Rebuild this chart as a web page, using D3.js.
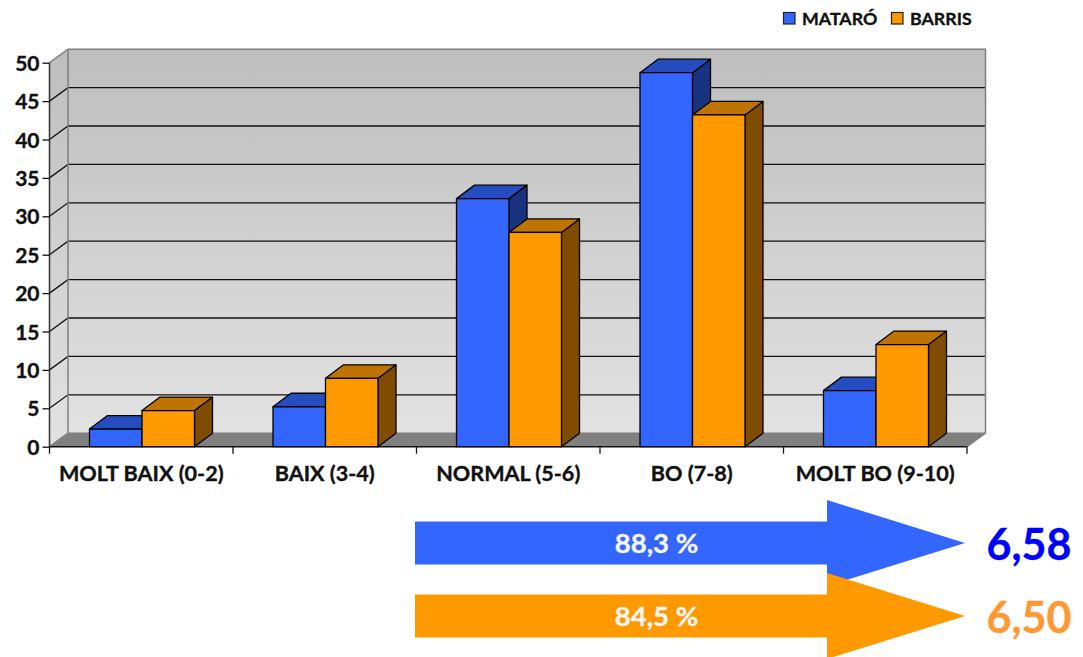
<!DOCTYPE html>
<html><head><meta charset="utf-8">
<script src="https://cdn.jsdelivr.net/npm/d3@7"></script>
<style>html,body{margin:0;padding:0;background:#fff}svg{display:block}text{font-family:Lato,"Open Sans",sans-serif;font-weight:700;stroke:currentColor;stroke-width:.35px}</style>
</head><body><svg id="c" width="1083" height="657"></svg>
<script>
const categories=["MOLT BAIX (0-2)","BAIX (3-4)","NORMAL (5-6)","BO (7-8)","MOLT BO (9-10)"];
const mataro=[2.3,5.2,32.3,48.7,7.3];
const barris=[4.7,8.9,27.9,43.2,13.3];
const seriesNames=["MATARÓ","BARRIS"];
const yTicks=[0,5,10,15,20,25,30,35,40,45,50];
const summaryPct=["88,3 %","84,5 %"];
const summaryMean=["6,58","6,50"];

const svg=d3.select("#c");
const dx=18.5,dy=-13.5,bdx=18,bdy=-13.5;
const x=d3.scaleBand().domain(categories).range([49.5,967]);
const y=d3.scaleLinear().domain([0,50]).range([446.7,62.7]);
const inner=d3.scaleBand().domain([0,1]).range([40,145]);
const defs=svg.append("defs");
const g=defs.append("linearGradient").attr("id","wall").attr("x1",0).attr("x2",0).attr("y1",0).attr("y2",1);
g.append("stop").attr("offset",0).attr("stop-color","#bebebe");
g.append("stop").attr("offset",1).attr("stop-color","#e2e2e2");
const poly=(pts,fill,stroke,sw)=>svg.append("polygon").attr("points",pts.map(p=>p.join(",")).join(" ")).attr("fill",fill).attr("stroke",stroke||"none").attr("stroke-width",sw||0).attr("stroke-linejoin","round");
const x0=x.range()[0],x1=x.range()[1],y0=y(0),yT=y(50);
poly([[x0,y0],[x0+dx,y0+dy],[x0+dx,yT+dy],[x0,yT]],"url(#wall)");
poly([[x0+dx,y0+dy],[x1+dx,y0+dy],[x1+dx,yT+dy],[x0+dx,yT+dy]],"url(#wall)");
poly([[x0,y0],[x1,y0],[x1+dx,y0+dy],[x0+dx,y0+dy]],"#808080");
yTicks.filter(t=>t>0&&t<50).forEach(t=>{
  svg.append("path").attr("fill","none").attr("stroke","#111").attr("stroke-width",1.3)
    .attr("d",`M${x0},${y(t)}L${x0+dx},${y(t)+dy}L${x1+dx},${y(t)+dy}`);
});
svg.append("path").attr("fill","none").attr("stroke","#808080").attr("stroke-width",1.5)
  .attr("d",`M${x0},${yT}L${x0+dx},${yT+dy}L${x1+dx},${yT+dy}L${x1+dx},${y0+dy}L${x1},${y0}M${x0+dx},${yT+dy}L${x0+dx},${y0+dy}L${x0},${y0}M${x0+dx},${y0+dy}L${x1+dx},${y0+dy}`);
const colors=[{f:"#3366ff",t:"#264dbf",s:"#1a3380"},{f:"#ff9900",t:"#bf7300",s:"#804d00"}];
categories.forEach((c,ci)=>{
  [mataro,barris].forEach((arr,si)=>{
    const v=arr[ci];
    const l=x(c)+inner(si),w=inner.bandwidth(),t=y(v),b=y(0),col=colors[si];
    poly([[l+w,t],[l+w+bdx,t+bdy],[l+w+bdx,b+bdy],[l+w,b]],col.s,"#000",1.3);
    poly([[l,t],[l+bdx,t+bdy],[l+w+bdx,t+bdy],[l+w,t]],col.t,"#000",1.3);
    poly([[l,t],[l+w,t],[l+w,b],[l,b]],col.f,"#000",1.3);
  });
});
const ya=d3.axisLeft(y).tickValues(yTicks).tickSize(7).tickPadding(3);
const yg=svg.append("g").attr("transform",`translate(${x0},0)`).call(ya);
yg.select(".domain").attr("stroke","#333").attr("stroke-width",1.5).attr("d",`M0,${yT}V${y0}`);
yg.selectAll("line").attr("stroke","#111").attr("stroke-width",1.3);
yg.selectAll("text").attr("fill","#111").attr("color","#111").style("font-size","21px").attr("dy","0.36em");
const xa=d3.axisBottom(x).tickSize(0).tickPadding(19);
const xg=svg.append("g").attr("transform",`translate(0,${y0})`).call(xa);
xg.select(".domain").attr("stroke","#111").attr("stroke-width",1.5).attr("d",`M${x0},0H${x1}`);
xg.selectAll("text").attr("fill","#111").attr("color","#111").style("font-size","21.6px");
d3.range(0,categories.length+1).forEach(i=>{
  const px=x0+i*x.step();
  svg.append("line").attr("x1",px).attr("x2",px).attr("y1",y0).attr("y2",y0+7).attr("stroke","#111").attr("stroke-width",1.3);
});
[[783,802],[891,910]].forEach((p,i)=>{
  svg.append("rect").attr("x",p[0]+.5).attr("y",12.5).attr("width",11.5).attr("height",11.5).attr("fill",colors[i].f).attr("stroke","#222").attr("stroke-width",1.2);
  svg.append("text").attr("x",p[1]).attr("y",25).attr("fill","#111").attr("color","#111").style("font-size","17.8px").text(seriesNames[i]);
});
const ax=d3.scaleLinear().domain([0,1]).range([415,965]);
const arrow=(cy,col)=>{
  const s=ax(0),n=827,tip=ax(1);
  poly([[s,cy-21.5],[n,cy-21.5],[n,cy-43],[tip,cy],[n,cy+43],[n,cy+21.5],[s,cy+21.5]],col);
};
[[543,"#3366ff"],[616,"#ff9900"]].forEach(a=>arrow(a[0],a[1]));
[[543,"#0000ff"],[616,"#ff9933"]].forEach((a,i)=>{
  svg.append("text").attr("x",656.5).attr("y",a[0]+10).attr("text-anchor","middle").attr("fill","#f5f5f5").attr("color","#f5f5f5").style("font-size","27.5px").text(summaryPct[i]);
  svg.append("text").attr("x",1029).attr("y",a[0]+17).attr("text-anchor","middle").attr("fill",a[1]).attr("color",a[1]).style("font-size","43px").text(summaryMean[i]);
});
</script></body></html>
